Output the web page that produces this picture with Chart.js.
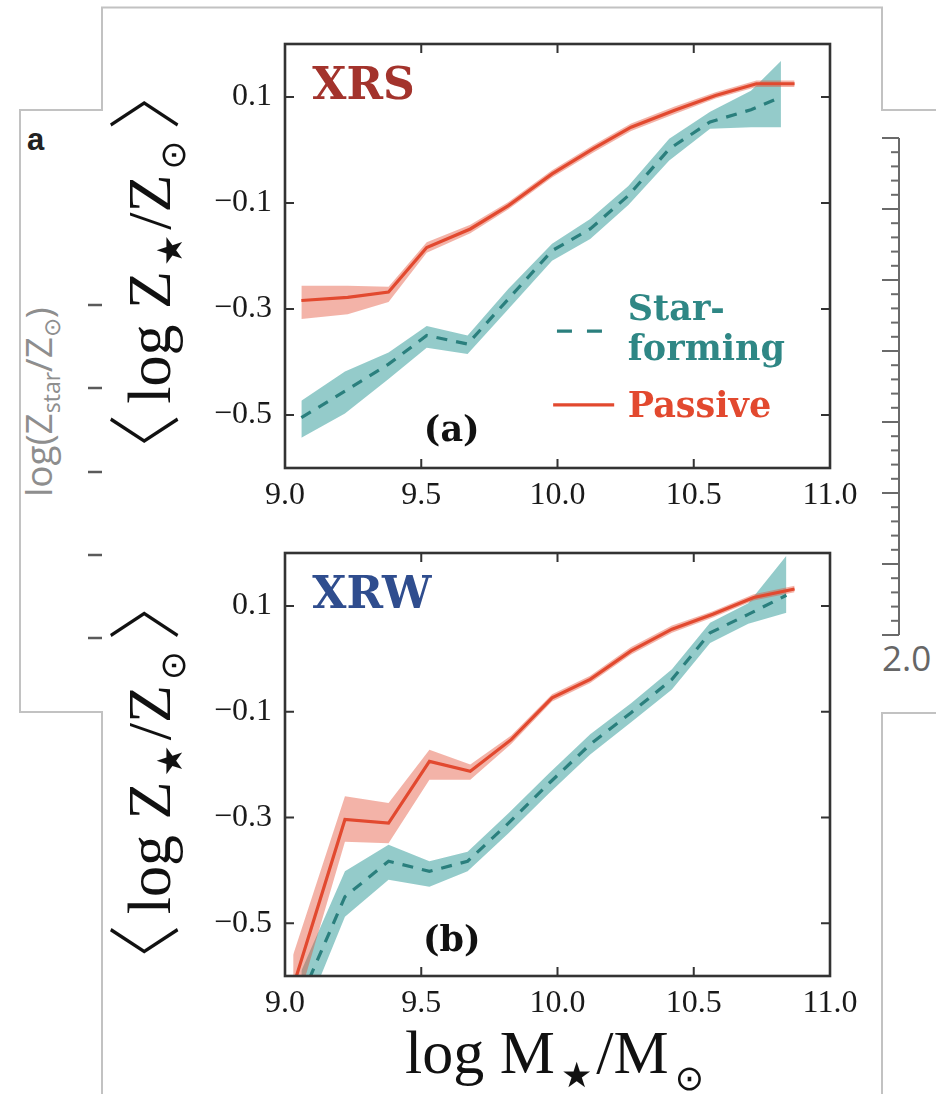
<!DOCTYPE html>
<html>
<head>
<meta charset="utf-8">
<script src="https://cdn.jsdelivr.net/npm/chart.js@4.4.1/dist/chart.umd.min.js"></script>
<style>
  html, body { margin: 0; padding: 0; background: #fff; }
  #page { position: relative; width: 936px; height: 1094px; overflow: hidden; background: #fff; }
  #backdrop { position: absolute; left: 0; top: 0; }
  .panel { position: absolute; left: 0; width: 936px; }
  #panelA { top: 0; height: 540px; }
  #panelB { top: 520px; height: 574px; }
</style>
</head>
<body>
<div id="page">
  <svg id="backdrop" width="936" height="1094" xmlns="http://www.w3.org/2000/svg">
    <path d="M102,1094 V712 H20 V110 H102 V7.5 H882 V110 H936 M936,713 H882 V1094"
          fill="none" stroke="#c2c2c2" stroke-width="2"/>
    <text x="27" y="150" font-family="Liberation Sans, Arial, sans-serif" font-weight="bold" font-size="31" fill="#222">a</text>
    <text transform="translate(52,497) rotate(-90)" font-family="Open Sans, sans-serif" font-size="37" fill="#8e8e8e">log(Z<tspan font-size="23" dy="8">star</tspan><tspan dy="-8">/Z</tspan><tspan font-size="23" dy="8">⊙</tspan><tspan dy="-8">)</tspan></text>
    <g stroke="#5a5a5a" stroke-width="2.5">
      <line x1="88" y1="305" x2="102" y2="305"/>
      <line x1="88" y1="388" x2="102" y2="388"/>
      <line x1="88" y1="472" x2="102" y2="472"/>
      <line x1="88" y1="555" x2="102" y2="555"/>
      <line x1="88" y1="638" x2="102" y2="638"/>
    </g>
    <g id="rightAxis" stroke="#6a6a6a" stroke-width="2"></g>
    <text x="882" y="671" font-family="Open Sans, sans-serif" font-size="35" fill="#666">2.0</text>
  </svg>
  <div class="panel" id="panelA"><canvas id="chartA"></canvas></div>
  <div class="panel" id="panelB"><canvas id="chartB"></canvas></div>
</div>

<script>
// Axis ticks shared by both panels
const massTicks = [9.0, 9.5, 10.0, 10.5, 11.0];
const zTicks = [-0.5, -0.3, -0.1, 0.1];

// Panel (a): XRS sample
const xrsPassiveMass = [9.06, 9.23, 9.38, 9.52, 9.68, 9.82, 9.98, 10.13, 10.27, 10.43, 10.58, 10.73, 10.87];
const xrsPassiveZ    = [-0.284, -0.278, -0.268, -0.184, -0.149, -0.105, -0.045, 0.002, 0.043, 0.075, 0.103, 0.125, 0.125];
const xrsPassiveLow  = [-0.319, -0.310, -0.287, -0.194, -0.157, -0.112, -0.052, -0.005, 0.036, 0.068, 0.097, 0.119, 0.119];
const xrsPassiveHigh = [-0.256, -0.256, -0.258, -0.174, -0.141, -0.098, -0.038, 0.009, 0.050, 0.082, 0.109, 0.131, 0.131];

const xrsStarMass = [9.06, 9.22, 9.38, 9.52, 9.67, 9.82, 9.98, 10.12, 10.26, 10.41, 10.56, 10.71, 10.82];
const xrsStarZ    = [-0.505, -0.455, -0.404, -0.350, -0.366, -0.281, -0.190, -0.149, -0.086, 0.002, 0.053, 0.076, 0.100];
const xrsStarLow  = [-0.543, -0.497, -0.432, -0.373, -0.385, -0.300, -0.209, -0.168, -0.104, -0.020, 0.040, 0.043, 0.043];
const xrsStarHigh = [-0.473, -0.418, -0.382, -0.332, -0.350, -0.262, -0.177, -0.130, -0.068, 0.021, 0.072, 0.112, 0.168];

// Panel (b): XRW sample
const xrwPassiveMass = [9.03, 9.22, 9.38, 9.53, 9.68, 9.83, 9.98, 10.12, 10.27, 10.42, 10.57, 10.72, 10.87];
const xrwPassiveZ    = [-0.620, -0.304, -0.311, -0.194, -0.213, -0.153, -0.074, -0.039, 0.015, 0.056, 0.084, 0.116, 0.132];
const xrwPassiveLow  = [-0.680, -0.346, -0.349, -0.229, -0.229, -0.161, -0.081, -0.046, 0.008, 0.049, 0.078, 0.110, 0.126];
const xrwPassiveHigh = [-0.560, -0.260, -0.273, -0.172, -0.200, -0.145, -0.067, -0.032, 0.022, 0.063, 0.090, 0.122, 0.138];

const xrwStarMass = [9.06, 9.22, 9.38, 9.53, 9.67, 9.82, 9.97, 10.12, 10.27, 10.42, 10.56, 10.70, 10.84];
const xrwStarZ    = [-0.640, -0.450, -0.383, -0.402, -0.383, -0.311, -0.235, -0.162, -0.102, -0.039, 0.049, 0.084, 0.120];
const xrwStarLow  = [-0.690, -0.488, -0.418, -0.431, -0.402, -0.330, -0.254, -0.181, -0.120, -0.058, 0.030, 0.066, 0.087];
const xrwStarHigh = [-0.590, -0.402, -0.352, -0.383, -0.365, -0.292, -0.216, -0.143, -0.084, -0.020, 0.068, 0.105, 0.195];

const RED_LINE = '#e2492f';
const RED_BAND = 'rgba(226,73,47,0.42)';
const TEAL_LINE = '#2a7f7d';
const TEAL_BAND = 'rgba(60,160,158,0.55)';
const TEAL_TEXT = '#2f8785';

const SERIF = '"Liberation Serif", "Times New Roman", serif';
const BOLD_SERIF = '"DejaVu Serif", serif';
const SYMBOLS = '"DejaVu Sans", sans-serif';
const BRACKETS = '"Noto Sans CJK JP", "DejaVu Sans", sans-serif';

// right-hand axis of the figure behind
(function () {
  const g = document.getElementById('rightAxis');
  const ns = 'http://www.w3.org/2000/svg';
  const add = (x1, y1, x2, y2) => {
    const l = document.createElementNS(ns, 'line');
    l.setAttribute('x1', x1); l.setAttribute('y1', y1);
    l.setAttribute('x2', x2); l.setAttribute('y2', y2);
    g.appendChild(l);
  };
  const top = 138, bottom = 635, majors = 7, minors = 5;
  add(899, top, 899, bottom);
  const step = (bottom - top) / (majors * minors);
  for (let i = 0; i <= majors * minors; i++) {
    const y = top + i * step;
    add(i % minors === 0 ? 882 : 891, y, 899, y);
  }
})();

function pts(xs, ys) { return xs.map((x, i) => ({ x, y: ys[i] })); }

function panelDatasets(pm, pz, plo, phi, sm, sz, slo, shi) {
  const band = { borderWidth: 0, pointRadius: 0, tension: 0 };
  return [
    { label: 'Passive', data: pts(pm, pz), borderColor: RED_LINE, borderWidth: 3.2, fill: false, pointRadius: 0 },
    { label: 'Star-forming', data: pts(sm, sz), borderColor: TEAL_LINE, borderWidth: 3.2, borderDash: [11, 9], fill: false, pointRadius: 0 },
    Object.assign({ label: 'passive upper', data: pts(pm, phi), fill: '+1', backgroundColor: RED_BAND }, band),
    Object.assign({ label: 'passive lower', data: pts(pm, plo), fill: false }, band),
    Object.assign({ label: 'sf upper', data: pts(sm, shi), fill: '+1', backgroundColor: TEAL_BAND }, band),
    Object.assign({ label: 'sf lower', data: pts(sm, slo), fill: false }, band),
  ];
}

// rich text: a sequence of runs with their own font and baseline shift
function runsWidth(ctx, runs) {
  let w = 0;
  runs.forEach(r => { ctx.font = r.font; w += (r.before || 0) + ctx.measureText(r.t).width + (r.after || 0); });
  return w;
}
function drawRuns(ctx, runs, x0) {
  let x = x0;
  runs.forEach(r => {
    ctx.font = r.font;
    x += r.before || 0;
    ctx.fillText(r.t, x, r.dy || 0);
    x += ctx.measureText(r.t).width + (r.after || 0);
  });
}

const TITLE_FONT = '62px ' + SERIF;
const SUB_FONT = '35px ' + SYMBOLS;
const BRACKET_FONT = '300 74px ' + BRACKETS;
const zTitle = [
  { t: '\u3008', font: BRACKET_FONT, dy: 2, after: 10 },
  { t: 'log Z', font: TITLE_FONT },
  { t: '\u2605', font: SUB_FONT, dy: 12, before: 5, after: 5 },
  { t: '/Z', font: TITLE_FONT },
  { t: '\u2299', font: SUB_FONT, dy: 15, before: 5 },
  { t: '\u3009', font: BRACKET_FONT, dy: 2, before: 10 },
];
const massTitle = [
  { t: 'log M', font: TITLE_FONT },
  { t: '\u2605', font: SUB_FONT, dy: 14, before: 6, after: 4 },
  { t: '/M', font: TITLE_FONT },
  { t: '\u2299', font: SUB_FONT, dy: 17, before: 6 },
];

const panelDecor = {
  id: 'panelDecor',
  afterDatasetsDraw(chart, args, o) {
    const { ctx, chartArea: a, scales: { x, y } } = chart;
    ctx.save();
    ctx.strokeStyle = '#333';
    ctx.lineWidth = 2;
    const L = 9;
    ctx.beginPath();
    massTicks.forEach(v => {
      const p = x.getPixelForValue(v);
      ctx.moveTo(p, a.bottom); ctx.lineTo(p, a.bottom - L);
      ctx.moveTo(p, a.top); ctx.lineTo(p, a.top + L);
    });
    zTicks.forEach(v => {
      const p = y.getPixelForValue(v);
      ctx.moveTo(a.left, p); ctx.lineTo(a.left + L, p);
      ctx.moveTo(a.right, p); ctx.lineTo(a.right - L, p);
    });
    ctx.stroke();
    ctx.lineWidth = 2.6;
    ctx.strokeRect(a.left, a.top, a.right - a.left, a.bottom - a.top);
    ctx.restore();
  },
  afterDraw(chart, args, o) {
    const { ctx, chartArea: a } = chart;
    const W = a.right - a.left, H = a.bottom - a.top;
    const fx = f => a.left + f * W, fy = f => a.top + f * H;
    ctx.save();
    ctx.fillStyle = '#111';
    ctx.textBaseline = 'alphabetic';

    // y-axis title, rotated
    ctx.save();
    ctx.translate(170, (a.top + a.bottom) / 2 + o.titleShift);
    ctx.rotate(-Math.PI / 2);
    drawRuns(ctx, zTitle, -runsWidth(ctx, zTitle) / 2);
    ctx.restore();

    // x-axis title
    if (o.massTitle) {
      ctx.save();
      ctx.translate((a.left + a.right) / 2 - 3, a.bottom + 97);
      drawRuns(ctx, massTitle, -runsWidth(ctx, massTitle) / 2);
      ctx.restore();
    }

    // sample name and panel letter
    ctx.font = 'bold 44px ' + BOLD_SERIF;
    ctx.fillStyle = o.sampleColor;
    ctx.textAlign = 'left';
    ctx.fillText(o.sample, fx(0.05), fy(0.13));
    ctx.font = 'bold 35px ' + BOLD_SERIF;
    ctx.fillStyle = '#111';
    ctx.textAlign = 'center';
    ctx.textBaseline = 'middle';
    ctx.fillText(o.letter, fx(0.306), fy(o.letterY));

    // legend
    if (o.legend) {
      ctx.textBaseline = 'alphabetic';
      ctx.textAlign = 'left';
      ctx.lineWidth = 3.2;
      ctx.strokeStyle = TEAL_LINE;
      ctx.setLineDash([15, 15]);
      ctx.beginPath();
      ctx.moveTo(fx(0.499), fy(0.677)); ctx.lineTo(fx(0.59), fy(0.677));
      ctx.stroke();
      ctx.setLineDash([]);
      ctx.strokeStyle = RED_LINE;
      ctx.beginPath();
      ctx.moveTo(fx(0.492), fy(0.851)); ctx.lineTo(fx(0.604), fy(0.851));
      ctx.stroke();
      ctx.font = 'bold 35px ' + BOLD_SERIF;
      ctx.fillStyle = TEAL_TEXT;
      ctx.fillText('Star-', fx(0.629), fy(0.650));
      ctx.fillText('forming', fx(0.629), fy(0.745));
      ctx.fillStyle = RED_LINE;
      ctx.fillText('Passive', fx(0.629), fy(0.880));
    }
    ctx.restore();
  }
};

function makePanel(id, datasets, cfg) {
  return new Chart(document.getElementById(id), {
    type: 'line',
    data: { datasets },
    options: {
      responsive: true,
      maintainAspectRatio: false,
      animation: false,
      events: [],
      layout: { padding: { left: 0, right: 106, top: cfg.top, bottom: 0 } },
      elements: { line: { tension: 0 }, point: { radius: 0 } },
      plugins: {
        legend: { display: false },
        tooltip: { enabled: false },
        panelDecor: cfg.decor
      },
      scales: {
        x: {
          type: 'linear', min: 9, max: 11,
          afterBuildTicks: s => { s.ticks = massTicks.map(v => ({ value: v })); },
          afterFit: s => { s.height = cfg.xAxisHeight; },
          grid: { display: false, drawTicks: false },
          border: { display: false },
          ticks: {
            padding: 8, color: '#1a1a1a', maxRotation: 0, autoSkip: false,
            font: { family: SERIF, size: 32 },
            callback: v => Number(v).toFixed(1)
          }
        },
        y: {
          type: 'linear', min: -0.6, max: 0.2,
          afterBuildTicks: s => { s.ticks = zTicks.map(v => ({ value: v })); },
          afterFit: s => { s.width = 285; },
          grid: { display: false, drawTicks: false },
          border: { display: false },
          ticks: {
            padding: 13, color: '#1a1a1a', autoSkip: false,
            font: { family: SERIF, size: 32 },
            callback: v => (v < 0 ? '\u2212' : '') + Math.abs(v).toFixed(1)
          }
        }
      }
    },
    plugins: [panelDecor]
  });
}

makePanel('chartA',
  panelDatasets(xrsPassiveMass, xrsPassiveZ, xrsPassiveLow, xrsPassiveHigh,
                xrsStarMass, xrsStarZ, xrsStarLow, xrsStarHigh),
  { top: 44, xAxisHeight: 72,
    decor: { sample: 'XRS', sampleColor: '#a3332c', letter: '(a)', letterY: 0.915,
             legend: true, massTitle: false, titleShift: 16 } });

makePanel('chartB',
  panelDatasets(xrwPassiveMass, xrwPassiveZ, xrwPassiveLow, xrwPassiveHigh,
                xrwStarMass, xrwStarZ, xrwStarLow, xrwStarHigh),
  { top: 33, xAxisHeight: 118,
    decor: { sample: 'XRW', sampleColor: '#2f4d8e', letter: '(b)', letterY: 0.92,
             legend: false, massTitle: true, titleShift: 18 } });
</script>
</body>
</html>
